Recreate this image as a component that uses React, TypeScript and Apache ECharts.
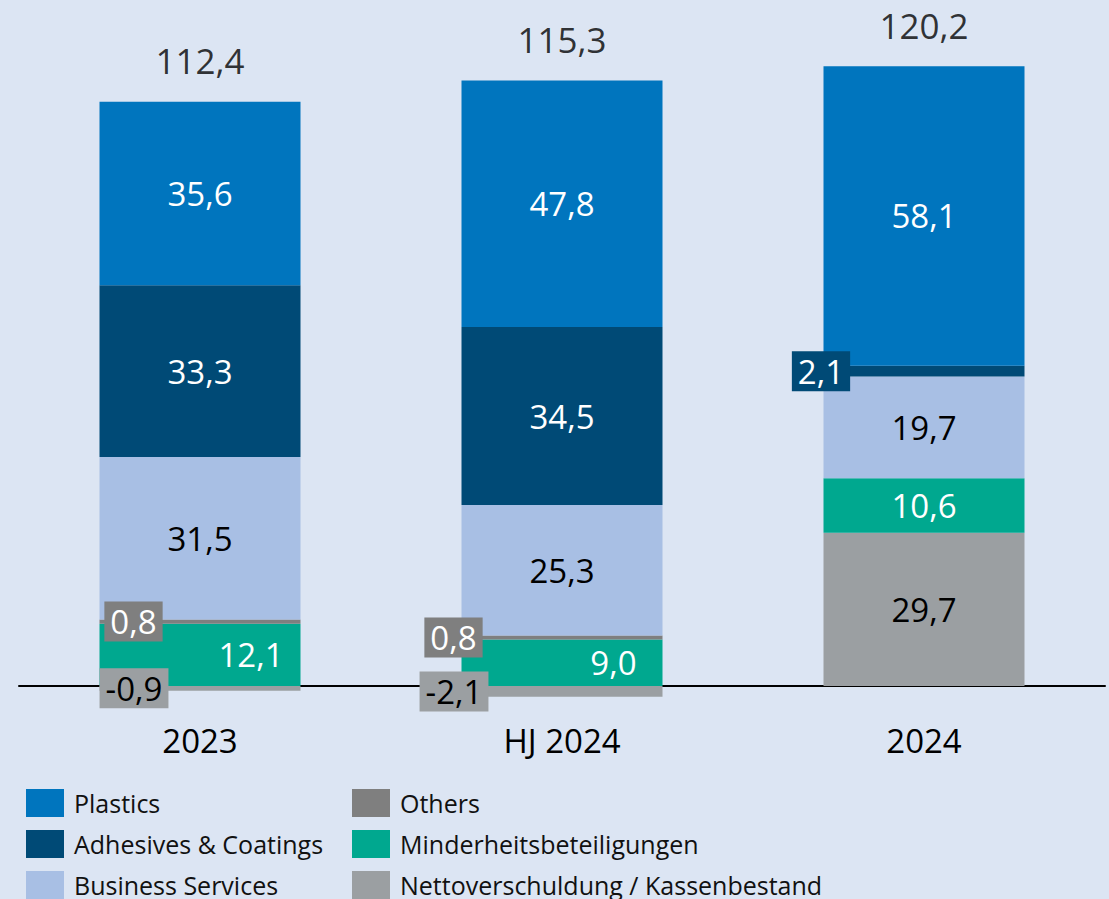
import React, { useEffect, useRef } from "react";
import * as echarts from "echarts";

const categories = ["2023", "HJ 2024", "2024"];
const plastics = [35.6, 47.8, 58.1];
const adhesives = [33.3, 34.5, 2.1];
const businessServices = [31.5, 25.3, 19.7];
const others = [0.8, 0.8, 0];
const minderheit = [12.1, 9.0, 10.6];
const netto = [-0.9, -2.1, 29.7];

const names = {
  plastics: "Plastics",
  adhesives: "Adhesives & Coatings",
  business: "Business Services",
  others: "Others",
  minderheit: "Minderheitsbeteiligungen",
  netto: "Nettoverschuldung / Kassenbestand",
};

const colors = {
  plastics: "#0075BE",
  adhesives: "#004A76",
  business: "#A8BFE4",
  others: "#7F7F7F",
  minderheit: "#00A88F",
  netto: "#9B9FA2",
};

const FONT = "Open Sans";
const BG = "#DCE5F3";

const fmt = (v: number) => v.toFixed(1).replace(".", ",");

const allSeries = [netto, minderheit, others, businessServices, adhesives, plastics];
const positiveTops = categories.map((_, i) =>
  allSeries.reduce((s, arr) => s + Math.max(0, arr[i]), 0)
);
const totals = categories.map((_, i) => allSeries.reduce((s, arr) => s + arr[i], 0));

const boxLabel = (bg: string, color: string, dx: number) => ({
  show: true,
  position: "inside",
  offset: [dx, 0],
  color,
  backgroundColor: bg,
  padding: [1, 6, 1, 6],
  lineHeight: 38,
});

// per-item label overrides (style only)
const labelOverrides: Record<string, Record<number, any>> = {
  others: {
    0: boxLabel(colors.others, "#fff", -66.5),
    1: boxLabel(colors.others, "#fff", -108.5),
    2: { show: false },
  },
  netto: {
    0: boxLabel(colors.netto, "#000", -66),
    1: boxLabel(colors.netto, "#000", -108),
  },
  adhesives: {
    2: boxLabel(colors.adhesives, "#fff", -103),
  },
  minderheit: {
    0: { offset: [51, 0] },
    1: { offset: [51.5, 0] },
  },
};

function makeBar(key: keyof typeof names, values: number[], textColor: string) {
  const ov = labelOverrides[key] || {};
  return {
    name: names[key],
    type: "bar",
    stack: "total",
    barWidth: 201,
    itemStyle: { color: colors[key] },
    label: {
      show: true,
      position: "inside",
      color: textColor,
      fontFamily: FONT,
      fontSize: 33,
      formatter: (p: any) => fmt(p.value),
    },
    data: values.map((v, i) => (ov[i] ? { value: v, label: ov[i] } : v)),
  };
}

export default function App() {
  const ref = useRef<HTMLDivElement>(null);
  useEffect(() => {
    if (!ref.current) return;
    const chart = echarts.init(ref.current, undefined, { renderer: "svg" });
    const legendText = {
      fontFamily: FONT,
      fontSize: 25,
      color: "#111",
      lineHeight: 28,
      padding: [0, 0, 0, 5],
    };
    const legendBase = {
      orient: "vertical",
      top: 789,
      height: 200,
      padding: 0,
      itemWidth: 38,
      itemHeight: 28,
      itemGap: 13,
      icon: "rect",
      textStyle: legendText,
    };
    chart.setOption({
      animation: false,
      backgroundColor: BG,
      grid: { left: 19, width: 1086, top: 41.4, height: 696.2, containLabel: false },
      xAxis: {
        type: "category",
        data: categories,
        axisLine: { show: true, onZero: true, lineStyle: { color: "#000", width: 2 } },
        axisTick: { show: false },
        axisLabel: {
          color: "#000",
          fontFamily: FONT,
          fontSize: 33,
          lineHeight: 34,
          margin: -14,
        },
      },
      yAxis: {
        type: "value",
        min: -10,
        max: 125,
        show: false,
        splitLine: { show: false },
      },
      legend: [
        { ...legendBase, left: 26, data: [names.plastics, names.adhesives, names.business] },
        { ...legendBase, left: 352, data: [names.others, names.minderheit, names.netto] },
      ],
      series: [
        makeBar("netto", netto, "#000"),
        makeBar("minderheit", minderheit, "#fff"),
        makeBar("others", others, "#fff"),
        makeBar("business", businessServices, "#000"),
        makeBar("adhesives", adhesives, "#fff"),
        makeBar("plastics", plastics, "#fff"),
        {
          name: "Total",
          type: "scatter",
          symbolSize: 0,
          silent: true,
          z: 10,
          data: positiveTops,
          label: {
            show: true,
            position: "inside",
            offset: [0, -41],
            color: "#000",
            fontFamily: FONT,
            fontSize: 35,
            formatter: (p: any) => fmt(totals[p.dataIndex]),
          },
        },
      ],
    });
    return () => chart.dispose();
  }, []);
  return (
    <div
      ref={ref}
      style={{ position: "fixed", left: 0, top: 0, width: 1109, height: 899, background: BG }}
    />
  );
}
